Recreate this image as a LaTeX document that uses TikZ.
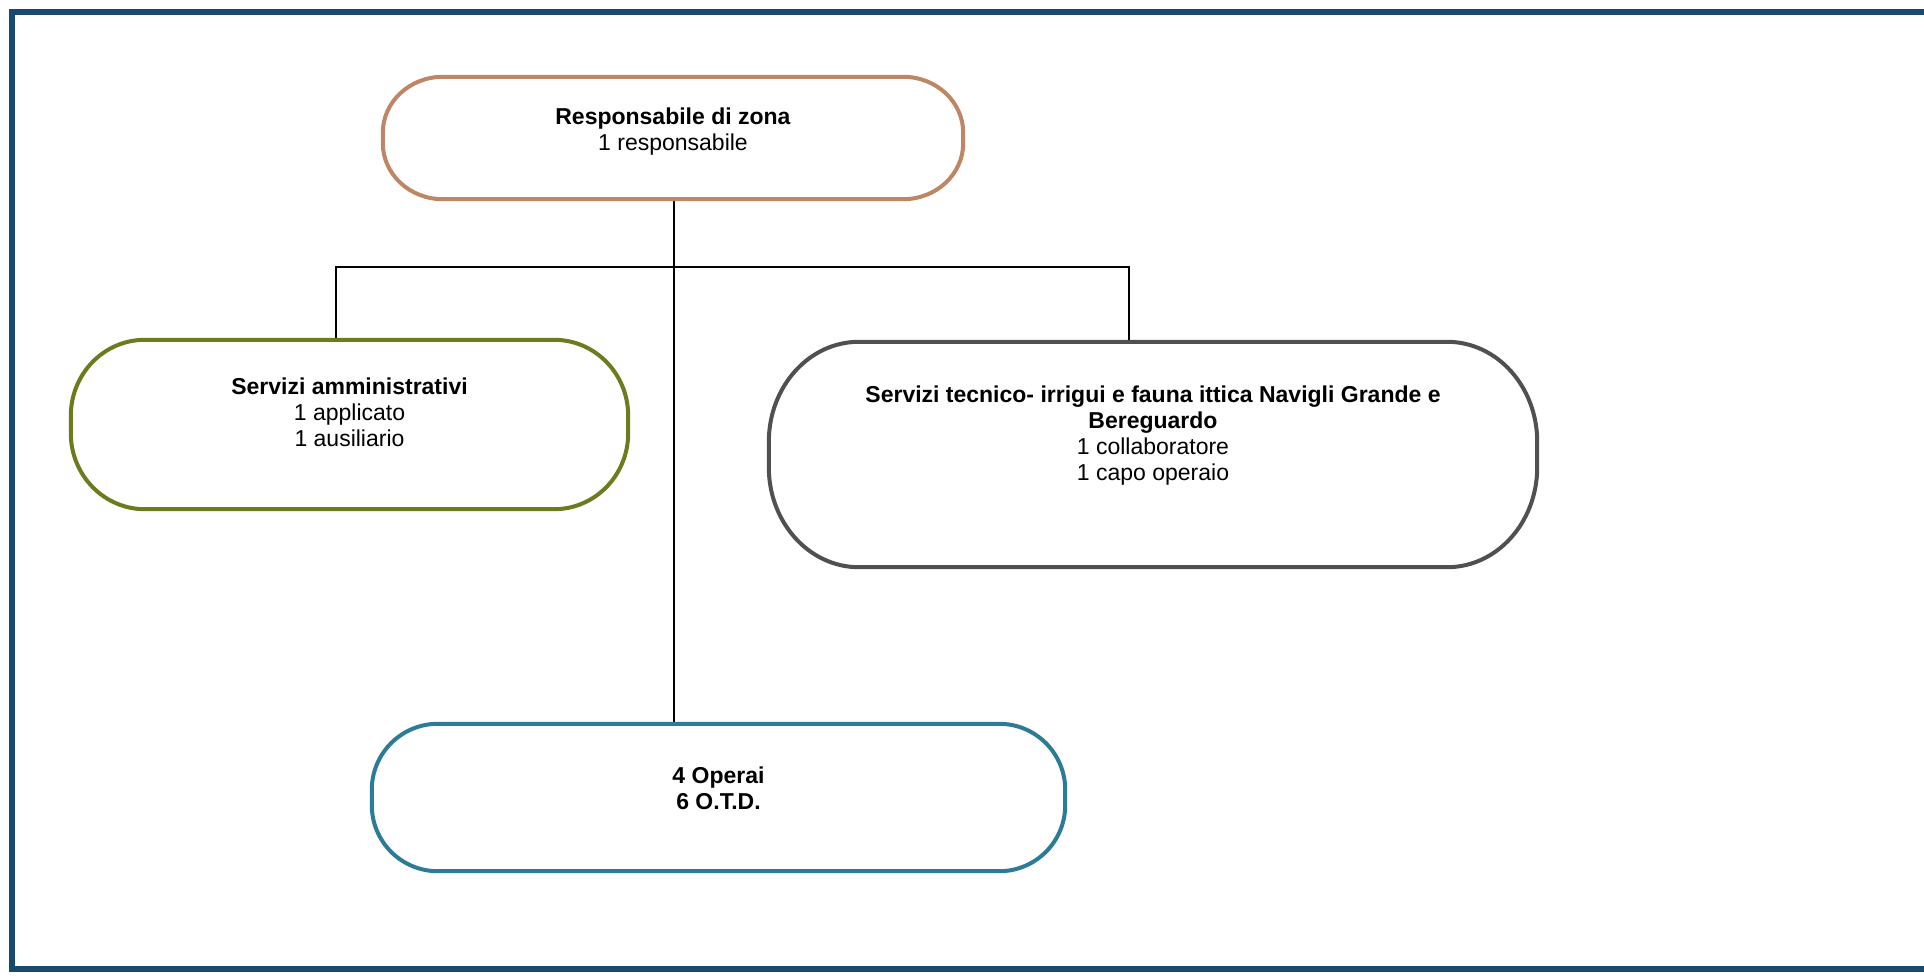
\documentclass[tikz,border=0pt]{standalone}
\usepackage{fontspec}
\setmainfont{Liberation Sans}
\definecolor{frameblue}{RGB}{24,74,110}
\definecolor{cbrown}{RGB}{190,134,100}
\definecolor{colive}{RGB}{110,122,30}
\definecolor{cgray}{RGB}{80,80,82}
\definecolor{cteal}{RGB}{44,124,150}
\newcommand{\stadiumbox}[4]{%
  \draw[line width=4pt,#4] ([xshift=#2]#1.north west) -- ([xshift=-#2]#1.north east)
    arc[start angle=90,end angle=0,x radius=#2,y radius=#3]
    -- ([yshift=#3]#1.south east)
    arc[start angle=0,end angle=-90,x radius=#2,y radius=#3]
    -- ([xshift=#2]#1.south west)
    arc[start angle=270,end angle=180,x radius=#2,y radius=#3]
    -- ([yshift=-#3]#1.north west)
    arc[start angle=180,end angle=90,x radius=#2,y radius=#3] -- cycle;}
\begin{document}
\begin{tikzpicture}[x=1pt,y=-1pt,
  box/.style={draw=none, rectangle, inner sep=0pt},
  txt/.style={align=center, font=\fontsize{23}{26}\selectfont, inner sep=0pt},
  conn/.style={draw=black, line width=2pt}]
\useasboundingbox (0,0) rectangle (1924,977);
\fill[white] (0,0) rectangle (1924,977);
% frame
\draw[frameblue, line width=5.5pt] (1924,12) -- (12,12) -- (12,969) -- (1924,969);
% boxes
\node[box, minimum width=580pt, minimum height=122pt] (top) at (673,138) {};
\node[box, minimum width=557pt, minimum height=169pt] (left) at (349.5,424.5) {};
\node[box, minimum width=768pt, minimum height=225pt] (right) at (1153,454.5) {};
\node[box, minimum width=693pt, minimum height=147pt] (bot) at (718.5,797.5) {};
% connectors
\coordinate (busL) at (336,267);
\coordinate (busR) at (1129,267);
\draw[conn] ([xshift=1pt]top.south) -- ([xshift=1pt]top.south |- bot.north);
\draw[conn] (left.north -| busL) -- (busL) -- (busR) -- (right.north -| busR);
% outlines
\stadiumbox{top}{60pt}{56pt}{cbrown,fill=white}
\stadiumbox{left}{74pt}{76pt}{colive,fill=white}
\stadiumbox{right}{90pt}{100pt}{cgray,fill=white}
\stadiumbox{bot}{66pt}{66pt}{cteal,fill=white}
% texts
\node[txt] (topT) at (673,132) {\textbf{Responsabile di zona}\\1 responsabile};
\node[txt] (leftT) at (349.5,412) {\textbf{Servizi amministrativi}\\1 applicato\\1 ausiliario};
\node[txt] (rightT) at (1153,435.5) {\textbf{Servizi tecnico- irrigui e fauna ittica Navigli Grande e}\\\textbf{Bereguardo}\\1 collaboratore\\1 capo operaio};
\node[txt] (botT) at (718.5,788) {\textbf{4 Operai}\\\textbf{6 O.T.D.}};
\end{tikzpicture}
\end{document}
